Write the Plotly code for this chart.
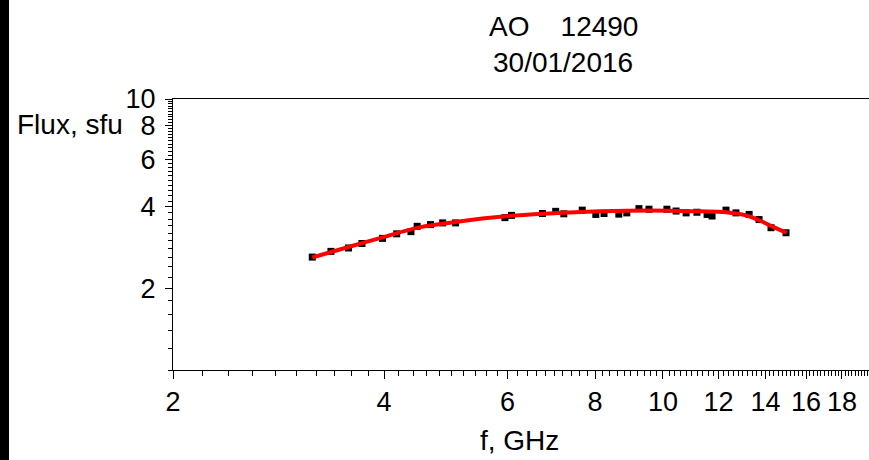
import math
import plotly.graph_objects as go

# Observed spectrum (frequency in GHz, flux in sfu)
freq_obs = [3.16, 3.36, 3.56, 3.72, 3.98, 4.17, 4.37, 4.46, 4.66, 4.85, 5.06,
            5.95, 6.08, 6.73, 7.03, 7.22, 7.67, 8.02, 8.24, 8.65, 8.88, 9.24,
            9.55, 10.13, 10.44, 10.79, 11.18, 11.56, 11.75, 12.30, 12.71,
            13.27, 13.71, 14.26, 14.98]
flux_obs = [2.61, 2.74, 2.82, 2.93, 3.06, 3.18, 3.24, 3.39, 3.44, 3.49, 3.49,
            3.65, 3.72, 3.78, 3.85, 3.77, 3.89, 3.75, 3.78, 3.76, 3.80, 3.94,
            3.92, 3.92, 3.86, 3.80, 3.82, 3.75, 3.70, 3.89, 3.80,
            3.75, 3.59, 3.35, 3.21]

# Fitted curve
freq_fit = [3.16, 3.57, 3.97, 4.49, 5.12, 5.95, 6.88, 8.11, 9.55, 11.26,
            12.30, 13.14, 13.71, 14.31, 15.02]
flux_fit = [2.60, 2.85, 3.08, 3.36, 3.53, 3.69, 3.78, 3.85, 3.88, 3.85,
            3.82, 3.72, 3.57, 3.39, 3.21]

x_ticks = [2, 4, 6, 8, 10, 12, 14, 16, 18, 20]
y_ticks = [2, 4, 6, 8, 10]
x_minor = [round(2 + 0.2 * i, 1) for i in range(0, 95)]
y_minor = [round(1 + 0.2 * i, 1) for i in range(0, 46)]
title_line1 = "AO\u00a0\u00a0\u00a0\u00a012490"
title_line2 = "30/01/2016"

W, H = 869, 460
L, R, T, B = 173, 0, 99, 90
FONT = "Liberation Sans, Arial, sans-serif"

px_per_dec = 701
x_lo = math.log10(2)
x_hi = x_lo + (W - L - R) / px_per_dec
x_range = [x_lo, x_hi]
y_range = [0, 1]

fig = go.Figure()
fig.add_trace(go.Scatter(
    x=freq_obs, y=flux_obs, mode="markers",
    marker=dict(symbol="square", size=7, color="black"),
    showlegend=False, hoverinfo="x+y"))
fig.add_trace(go.Scatter(
    x=freq_fit, y=flux_fit, mode="lines", line_shape="spline",
    line=dict(color="#ff0000", width=4, smoothing=1.0),
    showlegend=False, hoverinfo="x+y"))
# invisible trace that binds the minor-tick axes
fig.add_trace(go.Scatter(
    x=freq_fit, y=flux_fit, xaxis="x2", yaxis="y2", mode="lines",
    line=dict(width=0, color="rgba(0,0,0,0)"), showlegend=False,
    hoverinfo="skip"))

tickfont = dict(family=FONT, size=27, color="black")

fig.update_layout(
    xaxis=dict(
        type="log", range=x_range,
        tickmode="array", tickvals=x_ticks, ticktext=[str(v) for v in x_ticks],
        ticks="outside", ticklen=8, tickwidth=1, tickcolor="black",
        showline=True, linecolor="black", linewidth=1, mirror=True,
        showgrid=False, zeroline=False, tickfont=tickfont,
    ),
    yaxis=dict(
        type="log", range=y_range,
        tickmode="array", tickvals=y_ticks, ticktext=[str(v) for v in y_ticks],
        ticks="outside", ticklen=7, tickwidth=1, tickcolor="black",
        showline=True, linecolor="black", linewidth=1, mirror=False,
        showgrid=False, zeroline=False, tickfont=tickfont,
        ticklabelstandoff=4,
    ),
    xaxis2=dict(
        type="log", range=x_range, overlaying="x", anchor="y", side="bottom",
        tickmode="array", tickvals=x_minor, ticktext=[" "] * len(x_minor),
        ticks="outside", ticklen=5, tickwidth=1, tickcolor="black",
        showline=False, showgrid=False, zeroline=False,
        tickfont=dict(size=1),
    ),
    yaxis2=dict(
        type="log", range=y_range, overlaying="y", anchor="x", side="left",
        tickmode="array", tickvals=y_minor, ticktext=[" "] * len(y_minor),
        ticks="outside", ticklen=4, tickwidth=1, tickcolor="black",
        showline=False, showgrid=False, zeroline=False,
        tickfont=dict(size=1),
    ),
)

pw = W - L - R
ph = H - T - B


def px_x(px):
    return (px - L) / pw


def px_y(py):
    return (H - B - py) / ph


annotations = [
    dict(text=title_line1, x=px_x(563), y=px_y(26)),
    dict(text=title_line2, x=px_x(563), y=px_y(62)),
    dict(text="f, GHz", x=px_x(519), y=px_y(440)),
]
for a in annotations:
    fig.add_annotation(xref="paper", yref="paper", showarrow=False,
                       xanchor="center", yanchor="middle",
                       font=dict(family=FONT, size=28, color="black"), **a)
fig.add_annotation(xref="paper", yref="paper", showarrow=False,
                   text="Flux, sfu", x=px_x(15), y=px_y(124),
                   xanchor="left", yanchor="middle",
                   font=dict(family=FONT, size=28, color="black"))

# dark strip at the left edge of the picture
fig.add_shape(type="rect", xref="paper", yref="paper",
              x0=px_x(0), x1=px_x(9), y0=px_y(H), y1=px_y(0),
              fillcolor="black", line=dict(width=0), layer="below")

fig.update_layout(
    width=W, height=H,
    margin=dict(l=L, r=R, t=T, b=B, pad=0),
    paper_bgcolor="white", plot_bgcolor="white",
    showlegend=False,
)

fig.write_html("out.html")
